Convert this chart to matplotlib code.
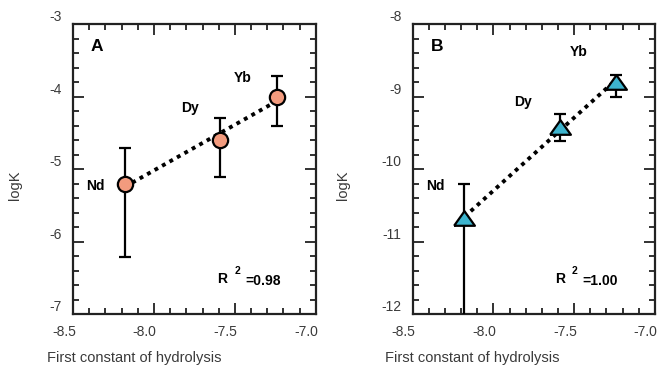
import numpy as np
import matplotlib
matplotlib.use('Agg')
import matplotlib.pyplot as plt
from matplotlib.ticker import MultipleLocator
import matplotlib.transforms as mtransforms

plt.rcParams['font.family'] = ['Liberation Sans', 'DejaVu Sans']

elements = ['Nd', 'Dy', 'Yb']
hydrolysis = [-8.18, -7.59, -7.24]

# panel A (circles)
logk_a = [-5.21, -4.60, -4.00]
err_lo_a = [1.00, 0.51, 0.41]
err_hi_a = [0.50, 0.30, 0.29]
r2_a = '0.98'

# panel B (triangles)
logk_b = [-10.68, -9.42, -8.80]
err_lo_b = [1.80, 0.19, 0.20]
err_hi_b = [0.47, 0.18, 0.10]
r2_b = '1.00'

text_gray = '#3a3a3a'


def style_axes(ax, ylim):
    ax.set_xlim(-8.5, -7.0)
    ax.set_ylim(*ylim)
    ax.xaxis.set_major_locator(MultipleLocator(0.5))
    ax.xaxis.set_minor_locator(MultipleLocator(0.1))
    ax.yaxis.set_major_locator(MultipleLocator(1))
    ax.yaxis.set_minor_locator(MultipleLocator(0.2))
    ax.xaxis.set_major_formatter(plt.FuncFormatter(lambda v, p: f'{v:.1f}'))
    ax.yaxis.set_major_formatter(plt.FuncFormatter(lambda v, p: f'{v:.0f}'))
    ax.tick_params(which='both', direction='in', top=True, right=True,
                   width=1.3, color='#222222', labelsize=10, labelcolor=text_gray)
    ax.tick_params(which='major', length=8, pad=8)
    ax.tick_params(which='minor', length=4)
    for s in ax.spines.values():
        s.set_linewidth(1.6)
        s.set_color('#222222')
    off = mtransforms.ScaledTranslation(2 / 72, 0, ax.figure.dpi_scale_trans)
    for lab in ax.get_xticklabels():
        lab.set_ha('right')
        lab.set_transform(lab.get_transform() + off)
    for lab in ax.get_yticklabels():
        lab.set_va('bottom')


def panel(ax, y, lo, hi, marker, size, color, ylim, letter, r2, lab_pos, r_pos):
    x = np.array(hydrolysis)
    y = np.array(y)
    coef = np.polyfit(x, y, 1)
    xl = np.array([x.min(), x.max()])
    ax.plot(xl, np.polyval(coef, xl), color='black', lw=2.8, ls=(0, (1, 1.2)), zorder=2)
    ax.errorbar(x, y, yerr=[lo, hi], fmt='none', ecolor='black', elinewidth=1.6,
                capsize=4.5, capthick=1.6, zorder=3)
    ax.plot(x, y, ls='none', marker=marker, ms=size, mfc=color, mec='black', mew=1.6,
            zorder=4)
    style_axes(ax, ylim)
    ax.text(-8.35, ylim[1] - 0.31, letter, fontsize=12.5, fontweight='bold',
            ha='center', va='center')
    for name, (px, py) in zip(elements, lab_pos):
        ax.text(px, py, name, fontsize=10, fontweight='bold', ha='center', va='center')
    rx, ry = r_pos
    ax.text(rx, ry, 'R', fontsize=10, fontweight='bold', ha='center', va='center')
    ax.text(rx + 0.092, ry + 0.11, '2', fontsize=7.5, fontweight='bold', ha='center', va='center')
    ax.text(rx + 0.14, ry - 0.02, '=' + r2, fontsize=10, fontweight='bold', ha='left', va='center')


fig = plt.figure(figsize=(6.6, 3.68), dpi=100)
ax_a = fig.add_axes([0.1106, 0.1467, 0.368, 0.788])
ax_b = fig.add_axes([0.6253, 0.1467, 0.367, 0.788])

panel(ax_a, logk_a, err_lo_a, err_hi_a, 'o', 11, '#F29B7E', (-7, -3), 'A', r2_a,
      [(-8.36, -5.24), (-7.78, -4.16), (-7.45, -3.75)], (-7.577, -6.52))

tri = [(-1, -0.7), (1, -0.7), (0, 0.7), (-1, -0.7)]
panel(ax_b, logk_b, err_lo_b, err_hi_b, tri, 15, '#3DB4CE', (-12, -8), 'B', r2_b,
      [(-8.36, -10.24), (-7.82, -9.07), (-7.47, -8.38)], (-7.588, -11.52))

fig.text(0.071, 0.027, 'First constant of hydrolysis', fontsize=10.5, color=text_gray,
         ha='left', va='center')
fig.text(0.583, 0.027, 'First constant of hydrolysis', fontsize=10.5, color=text_gray,
         ha='left', va='center')
fig.text(0.023, 0.497, 'logK', fontsize=10.5, color=text_gray, rotation=90,
         ha='center', va='center')
fig.text(0.52, 0.497, 'logK', fontsize=10.5, color=text_gray, rotation=90,
         ha='center', va='center')

fig.savefig('out.png', dpi=100)
